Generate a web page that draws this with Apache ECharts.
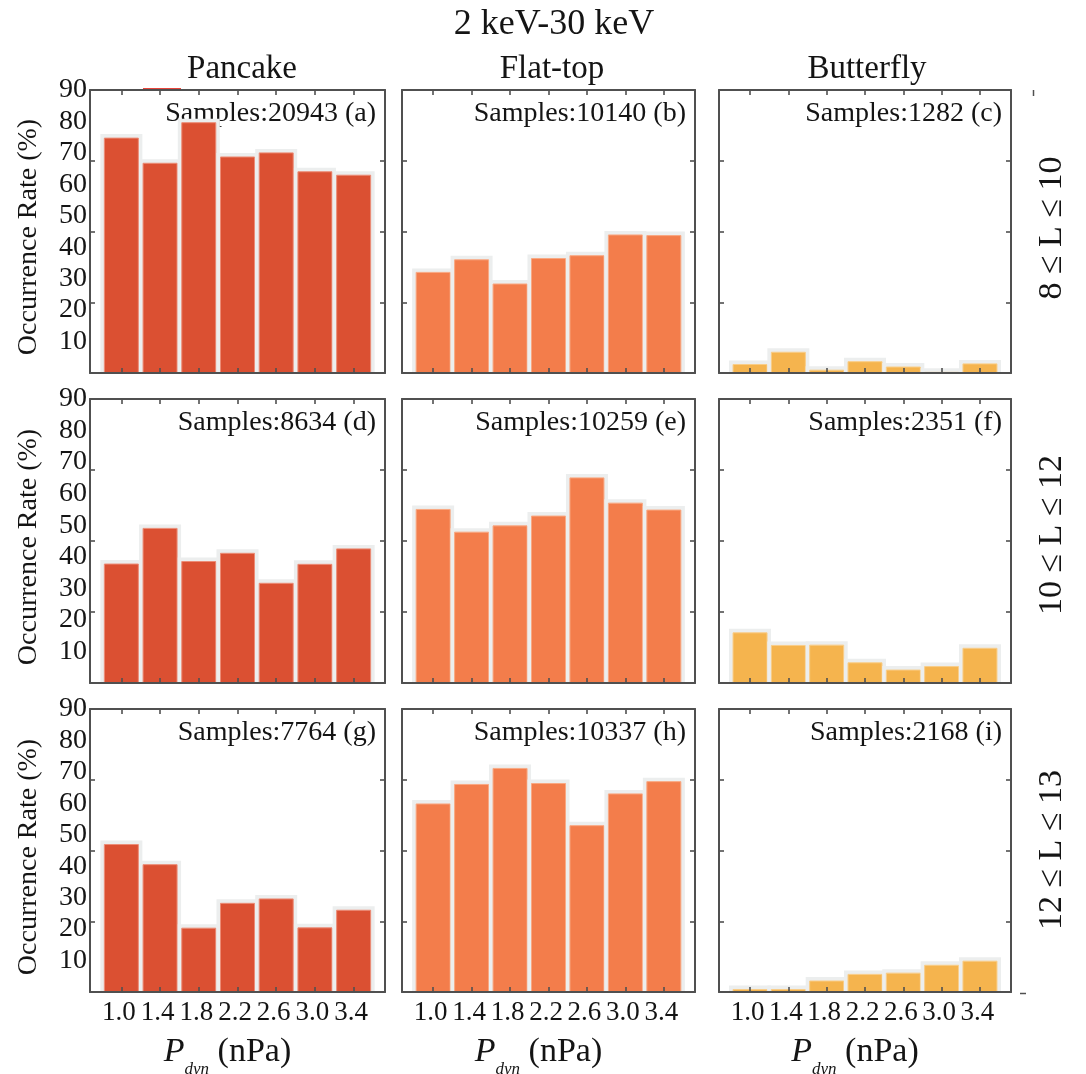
<!DOCTYPE html>
<html>
<head>
<meta charset="utf-8">
<script src="https://cdn.jsdelivr.net/npm/echarts@6/dist/echarts.min.js"></script>
<style>
html,body{margin:0;padding:0;background:#fff;}
#chart{width:1086px;height:1074px;}
</style>
</head>
<body>
<div id="chart"></div>
<script>
// ---------------- data ----------------
const categories = ['1.0', '1.4', '1.8', '2.2', '2.6', '3.0', '3.4'];
const yTickLabels = [10, 20, 30, 40, 50, 60, 70, 80, 90];
const yTickMarks = [22.5, 45, 67.5];
const columnTitles = ['Pancake', 'Flat-top', 'Butterfly'];
const rowTitles = ['8 \u2264 L \u2264 10', '10 \u2264 L \u2264 12', '12 \u2264 L \u2264 13'];
const mainTitle = '2 keV-30 keV';

const pancakeL8to10   = [74.7, 66.7, 79.6, 68.7, 70.0, 64.0, 62.9];
const flatTopL8to10   = [32.0, 36.0, 28.3, 36.4, 37.3, 43.9, 43.7];
const butterflyL8to10 = [2.7, 6.6, 0.9, 3.6, 1.9, 0.2, 2.9];

const pancakeL10to12   = [37.7, 49.0, 38.5, 41.1, 31.6, 37.6, 42.5];
const flatTopL10to12   = [55.0, 47.8, 49.8, 52.9, 65.0, 57.0, 54.8];
const butterflyL10to12 = [15.9, 11.9, 12.0, 6.4, 4.1, 5.2, 11.0];

const pancakeL12to13   = [46.9, 40.5, 20.3, 28.2, 29.6, 20.4, 26.0];
const flatTopL12to13   = [59.8, 66.0, 71.1, 66.3, 52.9, 63.0, 66.9];
const butterflyL12to13 = [0.8, 0.8, 3.5, 5.6, 6.0, 8.5, 9.8];

const sampleCounts = [20943, 10140, 1282, 8634, 10259, 2351, 7764, 10337, 2168];
const panelLetters = ['a', 'b', 'c', 'd', 'e', 'f', 'g', 'h', 'i'];

// ---------------- styling / layout ----------------
const FONT = "'Liberation Serif','Times New Roman',Times,serif";
const FRAME = '#505050';
const TEXT = '#141414';
const HALO = '#eceeee';
const colColors = ['#DB5032', '#F37D4B', '#F5B44E'];
const colEdges = ['#EC8C76', '#F9A882', '#F9CD88'];
const colLeft = [90, 402, 719];
const colRight = [385, 695, 1011];
const rowTop = [90, 399, 709];
const rowBottom = [373, 683, 992];
const BAR_W = 34, HALO_PAD = 4;
const W = 1086, H = 1074;

const panelData = [
  [pancakeL8to10, flatTopL8to10, butterflyL8to10],
  [pancakeL10to12, flatTopL10to12, butterflyL10to12],
  [pancakeL12to13, flatTopL12to13, butterflyL12to13]
];

const catIdx = categories.map((_, i) => i);
const grids = [], xAxes = [], yAxes = [], series = [], graphics = [];

function makeRenderItem(fill, edge) {
  return function (params, api) {
    const x = api.value(0), v = api.value(1);
    const top = api.coord([x, v]);
    const base = api.coord([x, 0]);
    const h = base[1] - top[1];
    return {
      type: 'group',
      children: [
        { type: 'rect', shape: { x: top[0] - BAR_W / 2 - HALO_PAD, y: top[1] - HALO_PAD, width: BAR_W + 2 * HALO_PAD, height: h + HALO_PAD }, style: { fill: HALO } },
        { type: 'rect', shape: { x: top[0] - BAR_W / 2, y: top[1], width: BAR_W, height: h }, style: { fill: fill, stroke: edge, lineWidth: 1 } }
      ]
    };
  };
}

for (let r = 0; r < 3; r++) {
  for (let c = 0; c < 3; c++) {
    const g = r * 3 + c;
    grids.push({
      left: colLeft[c], width: colRight[c] - colLeft[c],
      top: rowTop[r], height: rowBottom[r] - rowTop[r],
      containLabel: false
    });
    const lineStyle = { color: FRAME, width: 2 };
    const tickStyle = { color: FRAME, width: 1.6 };
    ['bottom', 'top'].forEach(pos => {
      xAxes.push({
        gridIndex: g, type: 'value', position: pos,
        min: -0.81, max: 6.81, z: 5,
        axisLine: { show: true, onZero: false, lineStyle },
        axisTick: { show: true, inside: true, length: 5, customValues: catIdx, lineStyle: tickStyle },
        axisLabel: {
          show: pos === 'bottom' && r === 2, customValues: catIdx,
          formatter: v => categories[Math.round(v)],
          fontFamily: FONT, fontSize: 27, color: TEXT, margin: 7,
          padding: [0, 5, 0, 0]
        },
        splitLine: { show: false }
      });
    });
    ['left', 'right'].forEach(pos => {
      yAxes.push({
        gridIndex: g, type: 'value', position: pos,
        min: 0, max: 90, z: 5,
        axisLine: { show: true, onZero: false, lineStyle },
        axisTick: { show: true, inside: true, length: 5, customValues: yTickMarks, lineStyle: tickStyle },
        axisLabel: {
          show: pos === 'left' && c === 0, customValues: yTickLabels,
          fontFamily: FONT, fontSize: 28, color: TEXT, margin: 3
        },
        splitLine: { show: false }
      });
    });
    series.push({
      type: 'custom', xAxisIndex: g * 2, yAxisIndex: g * 2,
      data: panelData[r][c].map((v, i) => [i, v]),
      encode: { x: 0, y: 1 },
      silent: true, clip: true, z: 2,
      renderItem: makeRenderItem(colColors[c], colEdges[c])
    });
    // samples annotation
    graphics.push({
      type: 'text', x: colRight[c] - 9, y: rowTop[r] + 24,
      style: {
        text: 'Samples:' + sampleCounts[g] + ' (' + panelLetters[g] + ')',
        font: '28px ' + FONT, fill: TEXT,
        textAlign: 'right', textVerticalAlign: 'middle'
      }
    });
  }
}

// main title
graphics.push({
  type: 'text', x: 554, y: 25,
  style: { text: mainTitle, font: '36px ' + FONT, fill: TEXT, textAlign: 'center', textVerticalAlign: 'middle' }
});
// column titles
const colTitleX = [242, 552, 867];
columnTitles.forEach((t, c) => {
  graphics.push({
    type: 'text', x: colTitleX[c], y: 69,
    style: { text: t, font: '33px ' + FONT, fill: TEXT, textAlign: 'center', textVerticalAlign: 'middle' }
  });
});
// y-axis names and row titles
const rowMid = [237, 547, 857];
const rowTitleMid = [228, 535, 850];
for (let r = 0; r < 3; r++) {
  graphics.push({
    type: 'text', x: 29, y: rowMid[r], rotation: Math.PI / 2,
    style: { text: 'Occurrence Rate (%)', font: '28px ' + FONT, fill: TEXT, textAlign: 'center', textVerticalAlign: 'middle' }
  });
  graphics.push({
    type: 'text', x: 1052, y: rowTitleMid[r], rotation: Math.PI / 2,
    style: { text: rowTitles[r], font: '34px ' + FONT, fill: TEXT, textAlign: 'center', textVerticalAlign: 'middle' }
  });
}
// x-axis names
for (let c = 0; c < 3; c++) {
  graphics.push({
    type: 'text', x: (colLeft[c] + colRight[c]) / 2 - 10, y: 1052,
    style: {
      text: '{p|P}{s|dyn}{n| (nPa)}',
      textAlign: 'center', textVerticalAlign: 'middle',
      rich: {
        p: { fontFamily: FONT, fontStyle: 'italic', fontSize: 34, fill: TEXT, color: TEXT, lineHeight: 52 },
        s: { fontFamily: FONT, fontStyle: 'italic', fontSize: 17, fill: TEXT, color: TEXT, lineHeight: 17, verticalAlign: 'bottom' },
        n: { fontFamily: FONT, fontSize: 34, fill: TEXT, color: TEXT, lineHeight: 52 }
      }
    }
  });
}
// small stray marks present in the original figure
graphics.push({ type: 'line', shape: { x1: 143, y1: 88.5, x2: 181, y2: 88.5 }, style: { stroke: '#e8453c', lineWidth: 1 } });
graphics.push({ type: 'line', shape: { x1: 1033.5, y1: 90, x2: 1033.5, y2: 96 }, style: { stroke: FRAME, lineWidth: 1.5 } });
graphics.push({ type: 'line', shape: { x1: 1020, y1: 993.5, x2: 1026, y2: 993.5 }, style: { stroke: FRAME, lineWidth: 1.5 } });

const chart = echarts.init(document.getElementById('chart'), null, { renderer: 'canvas', width: W, height: H });
chart.setOption({
  animation: false,
  backgroundColor: '#ffffff',
  grid: grids,
  xAxis: xAxes,
  yAxis: yAxes,
  series: series,
  graphic: { elements: graphics }
});
</script>
</body>
</html>
